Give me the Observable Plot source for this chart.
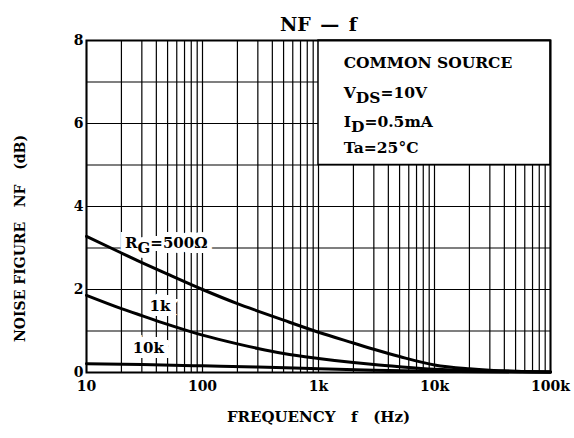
<!DOCTYPE html>
<html><head><meta charset="utf-8">
<script src="https://cdn.jsdelivr.net/npm/d3@7"></script>
<script src="https://cdn.jsdelivr.net/npm/@observablehq/plot@0.6"></script>
<style>
html,body{margin:0;padding:0;background:#fff;}
svg text{font-family:"DejaVu Serif",serif !important;}
</style>
</head><body>
<div id="chart"></div>
<script>
// Frequency (Hz) and noise figure (dB) per source resistance
const freqRG500 = [10, 20, 30, 50, 100, 200, 300, 500, 1000, 2000, 3000, 5000, 10000, 20000, 30000, 50000, 100000];
const nfRG500   = [3.28, 2.88, 2.65, 2.37, 2.0, 1.66, 1.48, 1.26, 0.97, 0.71, 0.56, 0.385, 0.18, 0.088, 0.055, 0.03, 0.01];
const freqRG1k  = [10, 20, 30, 50, 100, 200, 300, 500, 1000, 2000, 3000, 5000, 10000, 30000, 100000];
const nfRG1k    = [1.86, 1.54, 1.37, 1.16, 0.9, 0.69, 0.58, 0.46, 0.34, 0.24, 0.19, 0.138, 0.078, 0.04, 0.014];
const freqRG10k = [10, 30, 100, 300, 1000, 3000, 10000, 100000];
const nfRG10k   = [0.21, 0.19, 0.16, 0.13, 0.09, 0.055, 0.03, 0.01];

const xTicks = [10, 30, 100, 300, 1000, 3000, 10000, 30000, 100000];
const xTickLabels = ["10", "30", "100", "300", "1k", "3k", "10k", "30k", "100k"];
const yTicks = [0, 2, 4, 6, 8];
const curveLabels = ["R_{G}=500Ω", "1k", "10k"];
const curveLabelFreq = [21.5, 35, 25];
const curveLabelNF = [3.12, 1.59, 0.58];
const conditions = ["COMMON SOURCE", "V_{DS}=10V", "I_{D}=0.5mA", "Ta=25°C"];

const series = [
  freqRG500.map((f, i) => ({f, nf: nfRG500[i], s: "500"})),
  freqRG1k.map((f, i) => ({f, nf: nfRG1k[i], s: "1k"})),
  freqRG10k.map((f, i) => ({f, nf: nfRG10k[i], s: "10k"}))
].flat();

const gridFreqs = [];
for (const d of [10, 100, 1000, 10000]) for (let m = 1; m <= 9; m++) gridFreqs.push(m * d);
gridFreqs.push(100000);
const gridNF = d3.range(0, 9);

const labelData = curveLabels.map((t, i) => ({t, f: curveLabelFreq[i], nf: curveLabelNF[i]}));
const condData = conditions.map((t, i) => ({t, i}));
const condY = [7.45, 6.74, 6.03, 5.42];

const font = "DejaVu Serif";
const T = {fontFamily: font, fontWeight: "bold", fill: "#000"};
const labelOpts = {...T, x: "f", y: "nf", text: "t", textAnchor: "start", fontSize: 15};
const chart = Plot.plot({
  width: 574, height: 438,
  marginLeft: 86, marginRight: 24, marginTop: 40, marginBottom: 66,
  style: {fontFamily: font, background: "#fff"},
  x: {type: "log", domain: [10, 100000]},
  y: {domain: [0, 8]},
  marks: [
    Plot.ruleX(gridFreqs, {stroke: "#000", strokeWidth: 1.2}),
    Plot.ruleY(gridNF, {stroke: "#000", strokeWidth: 1.2}),
    Plot.rect([0], {x1: 1000, x2: 100000, y1: 5, y2: 8, fill: "#fff", stroke: "#000", strokeWidth: 1.5}),
    // white background behind curve labels (cuts the grid)
    Plot.text(labelData, {...labelOpts, fill: "#fff", stroke: "#fff", strokeWidth: 10, strokeLinejoin: "miter"}),
    Plot.line(series, {x: "f", y: "nf", z: "s", stroke: "#000", strokeWidth: 3, curve: "monotone-x"}),
    Plot.text(labelData, labelOpts),
    Plot.text(condData, {...T, x: 1650, y: d => condY[d.i], text: "t", textAnchor: "start", fontSize: 15.5}),
    Plot.frame({stroke: "#000", strokeWidth: 2}),
    Plot.axisX(xTicks, {...T, tickSize: 0, tickPadding: 9, fontSize: 14,
      tickFormat: d => xTickLabels[xTicks.indexOf(d)], label: null}),
    Plot.axisY(yTicks, {...T, tickSize: 0, tickPadding: 3, fontSize: 14, label: null}),
    Plot.text(["NF\u2002\u2014\u2002f"], {...T, frameAnchor: "top", dy: -23, fontSize: 19}),
    Plot.text(["FREQUENCY\u00a0\u00a0\u00a0f\u00a0\u00a0\u00a0(Hz)"], {...T, frameAnchor: "bottom", dy: 49, fontSize: 15}),
    Plot.text(["NOISE FIGURE\u00a0\u00a0\u00a0NF\u00a0\u00a0\u00a0(dB)"], {...T, frameAnchor: "left", textAnchor: "middle", rotate: -90, dx: -66, dy: 32, fontSize: 14})
  ]
});

// render subscripts as real lowered text
chart.querySelectorAll("text").forEach(t => {
  const s = t.textContent;
  if (!/_\{/.test(s)) return;
  const parts = s.split(/(_\{[^}]*\})/);
  t.textContent = "";
  const ns = "http://www.w3.org/2000/svg";
  let shifted = false;
  for (const p of parts) {
    if (!p) continue;
    const ts = document.createElementNS(ns, "tspan");
    if (p.startsWith("_{")) {
      ts.textContent = p.slice(2, -1);
      ts.setAttribute("dy", "5");
      shifted = true;
    } else {
      ts.textContent = p;
      if (shifted) { ts.setAttribute("dy", "-5"); shifted = false; }
    }
    t.appendChild(ts);
  }
});
document.getElementById("chart").appendChild(chart);
</script>
</body></html>
